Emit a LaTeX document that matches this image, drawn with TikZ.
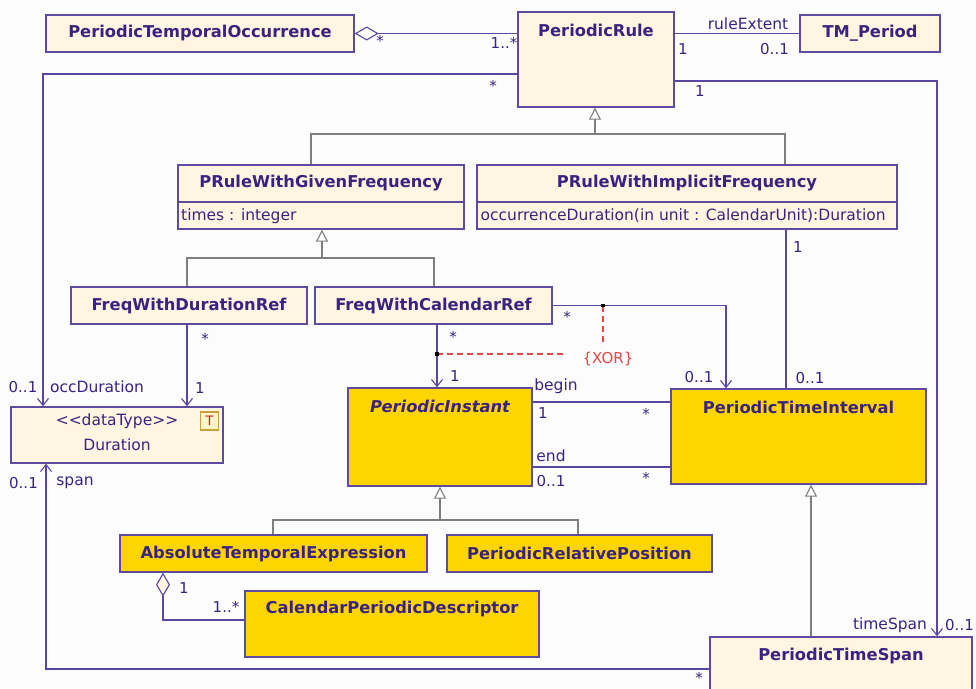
\documentclass[tikz,border=0pt]{standalone}
\usepackage{fontspec}
\setmainfont{DejaVu Sans}
\usetikzlibrary{arrows.meta}

\definecolor{bgcol}{HTML}{FCFCFC}
\definecolor{cream}{HTML}{FFF5E0}
\definecolor{goldfill}{HTML}{FFD500}
\definecolor{boxline}{HTML}{5E4A9E}
\definecolor{assocline}{HTML}{5A45A0}
\definecolor{txt}{HTML}{3A2380}
\definecolor{genline}{HTML}{7E7E7E}
\definecolor{xorred}{HTML}{E04848}
\definecolor{iconline}{HTML}{C8A040}
\definecolor{iconfill}{HTML}{FFF3C8}
\definecolor{iconred}{HTML}{D02020}

\newcommand\clsfont{\fontsize{16.3}{19}\selectfont\bfseries}
\newcommand\lblfont{\fontsize{15.5}{18}\selectfont}
\newcommand\mulfont{\fontsize{15}{17}\selectfont}

\begin{document}
\begin{tikzpicture}[x=1pt,y=-1pt,
  cls/.style={draw=boxline, line width=1.4pt, fill=cream, inner sep=0pt,
              text=txt, font=\clsfont},
  yel/.style={cls, fill=goldfill},
  title/.style={inner sep=0pt, text=txt, font=\clsfont},
  attr/.style={inner sep=0pt, text=txt, font=\lblfont, anchor=west},
  lbl/.style={inner sep=0pt, text=txt, font=\lblfont},
  mul/.style={inner sep=0pt, text=txt, font=\mulfont},
  assoc/.style={draw=assocline, line width=1.2pt},
  nav/.style={assoc, -{Straight Barb[length=7pt,width=11pt,line width=1.1pt]}},
  agg/.style={assoc, {Diamond[length=24pt,width=14pt,fill=#1,line width=1.1pt]}-},
  gen/.style={draw=genline, line width=1.2pt},
  gentip/.style={gen, -{Triangle[length=12pt,width=12pt,fill=white,line width=1.1pt]}},
  xor/.style={draw=xorred, line width=1.3pt, dash pattern=on 6pt off 4pt},
  joint/.style={fill=black, inner sep=0pt, minimum size=3.5pt}
]
\useasboundingbox (0,0) rectangle (976,688);
\clip (0,0) rectangle (976,688);
\fill[bgcol] (0,0) rectangle (976,688);

% ---------- classes ----------
\node[cls, minimum width=308pt, minimum height=37pt] (pto) at (200,33.5) {PeriodicTemporalOccurrence};
\node[cls, minimum width=156pt, minimum height=95pt] (pr) at (596,59.5) {};
\node[title] (prt) at (596,30) {PeriodicRule};
\node[cls, minimum width=140pt, minimum height=37pt] (tmp) at (870,33.5) {TM\_Period};

\node[cls, minimum width=286pt, minimum height=64pt] (pgf) at (321,197) {};
\node[title] (pgft) at (321,183.5) {PRuleWithGivenFrequency};
\draw[draw=boxline, line width=1.4pt] (pgf.west |- 0,202) -- (pgf.east |- 0,202);
\node[attr] (pgfa) at (181,216) {times : integer};

\node[cls, minimum width=420pt, minimum height=64pt] (pif) at (687,197) {};
\node[title] (pift) at (687,183.5) {PRuleWithImplicitFrequency};
\draw[draw=boxline, line width=1.4pt] (pif.west |- 0,202) -- (pif.east |- 0,202);
\node[attr] (pifa) at (480.5,216) {occurrenceDuration(in unit : CalendarUnit):Duration};

\node[cls, minimum width=236pt, minimum height=37pt] (fdr) at (189,305.5) {FreqWithDurationRef};
\node[cls, minimum width=237pt, minimum height=37pt] (fcr) at (433.5,305.5) {FreqWithCalendarRef};

\node[cls, minimum width=212pt, minimum height=56pt] (dur) at (117,435) {};
\node[lbl] (durs) at (117,421.5) {{<}{<}dataType{>}{>}};
\node[lbl] (durn) at (117,445) {Duration};
\node[draw=iconline, fill=iconfill, line width=1.1pt, minimum size=18pt, inner sep=0pt,
      text=iconred, font=\fontsize{13}{14}\selectfont] (icon) at (209.5,421) {T};

\node[yel, minimum width=184pt, minimum height=98pt] (pi) at (440,437) {};
\node[title, font=\clsfont\itshape] (pit) at (440,406) {PeriodicInstant};
\node[yel, minimum width=255pt, minimum height=95pt] (pti) at (798.5,436.5) {};
\node[title] (ptit) at (798.5,407.5) {PeriodicTimeInterval};

\node[yel, minimum width=307pt, minimum height=37pt] (ate) at (273.5,553.5) {AbsoluteTemporalExpression};
\node[yel, minimum width=265pt, minimum height=37pt] (prp) at (579.5,553.5) {PeriodicRelativePosition};
\node[yel, minimum width=294pt, minimum height=66pt] (cpd) at (392,624) {};
\node[title] (cpdt) at (392,609) {CalendarPeriodicDescriptor};

\node[cls, minimum width=262pt, minimum height=83pt] (pts) at (841,678.5) {};
\node[title] (ptst) at (841,656) {PeriodicTimeSpan};

% ---------- bend points ----------
\coordinate (occ) at (43,74);
\coordinate (ts) at (937,81);
\coordinate (g1) at (595,134);
\coordinate (g1l) at (311,134);
\coordinate (g1r) at (785,134);
\coordinate (g2) at (322,258);
\coordinate (g2l) at (187,258);
\coordinate (g2r) at (434,258);
\coordinate (g3) at (440,520);
\coordinate (g3l) at (273,520);
\coordinate (g3r) at (578,520);
\coordinate (cal) at (437,354);
\coordinate (cr) at (726,305.5);
\coordinate (crj) at (603,305.5);
\coordinate (xa) at (567,354);
\coordinate (xb) at (603,345);
\coordinate (imp) at (786,300);
\coordinate (bg) at (600,402);
\coordinate (en) at (600,467);
\coordinate (ag) at (163,620);
\coordinate (sp) at (46,669);
\coordinate (g4) at (811,560);

% ---------- associations ----------
\draw[agg=white] (pto.east) -- (pr.west |- pto.east);
\draw[assoc] (pr.east |- tmp.west) -- (tmp.west);
\draw[nav] (pr.west |- occ) -- (occ) -- (dur.north -| occ);
\draw[nav] (pr.east |- ts) -- (ts) -- (pts.north -| ts);
\draw[nav] (fdr.south -| g2l) -- (dur.north -| g2l);
\draw[nav] (fcr.south -| cal) -- (pi.north -| cal);
\draw[nav] (fcr.east) -- (cr) -- (pti.north -| cr);
\draw[assoc] (pif.south -| imp) -- (pti.north -| imp);
\draw[assoc] (pi.east |- bg) -- (pti.west |- bg);
\draw[assoc] (pi.east |- en) -- (pti.west |- en);
\draw[agg=cream] (ate.south -| ag) -- (ag) -- (cpd.west |- ag);
\draw[nav] (pts.west |- sp) -- (sp) -- (dur.south -| sp);

% ---------- xor constraint ----------
\draw[xor] (cal) -- (xa);
\draw[xor] (crj) -- (xb);
\node[joint] (j1) at (cal) {};
\node[joint] (j2) at (crj) {};
\node[inner sep=0pt, text=xorred, font=\mulfont] (xorl) at (608,359) {\{XOR\}};

% ---------- generalizations ----------
\draw[gen] (pgf.north -| g1l) -- (g1l) -- (g1r) -- (pif.north -| g1r);
\draw[gentip] (g1) -- (pr.south -| g1);
\draw[gen] (fdr.north -| g2l) -- (g2l) -- (g2r) -- (fcr.north -| g2r);
\draw[gentip] (g2) -- (pgf.south -| g2);
\draw[gen] (ate.north -| g3l) -- (g3l) -- (g3r) -- (prp.north -| g3r);
\draw[gentip] (g3) -- (pi.south -| g3);
\draw[gentip] (pts.north -| g4) -- (pti.south -| g4);

% ---------- role names and multiplicities ----------
\node[mul] (m1) at (380,41) {*};
\node[mul] (m2) at (504,43) {1..*};
\node[lbl] (r1) at (748,24) {ruleExtent};
\node[mul] (m3) at (683,49) {1};
\node[mul] (m4) at (774.5,49) {0..1};
\node[mul] (m5) at (493,86) {*};
\node[mul] (m6) at (700,91) {1};
\node[mul] (m7) at (23,387) {0..1};
\node[lbl] (r2) at (97,387) {occDuration};
\node[mul] (m8) at (205,339) {*};
\node[mul] (m9) at (200,388) {1};
\node[mul] (m10) at (453,337) {*};
\node[mul] (m11) at (455,376) {1};
\node[mul] (m12) at (567,317) {*};
\node[mul] (m13) at (699,377) {0..1};
\node[mul] (m14) at (798,247) {1};
\node[mul] (m15) at (810,378) {0..1};
\node[lbl] (r3) at (556,386) {begin};
\node[mul] (m16) at (543,413) {1};
\node[mul] (m17) at (646,414) {*};
\node[lbl] (r4) at (551,456) {end};
\node[mul] (m18) at (551,481) {0..1};
\node[mul] (m19) at (646,478) {*};
\node[mul] (m20) at (184,588) {1};
\node[mul] (m21) at (226,607) {1..*};
\node[mul] (m22) at (23.5,483) {0..1};
\node[lbl] (r5) at (75,483) {span};
\node[mul] (m23) at (699,678) {*};
\node[lbl] (r6) at (890,625) {timeSpan};
\node[mul] (m24) at (959.5,625) {0..1};
\end{tikzpicture}
\end{document}
